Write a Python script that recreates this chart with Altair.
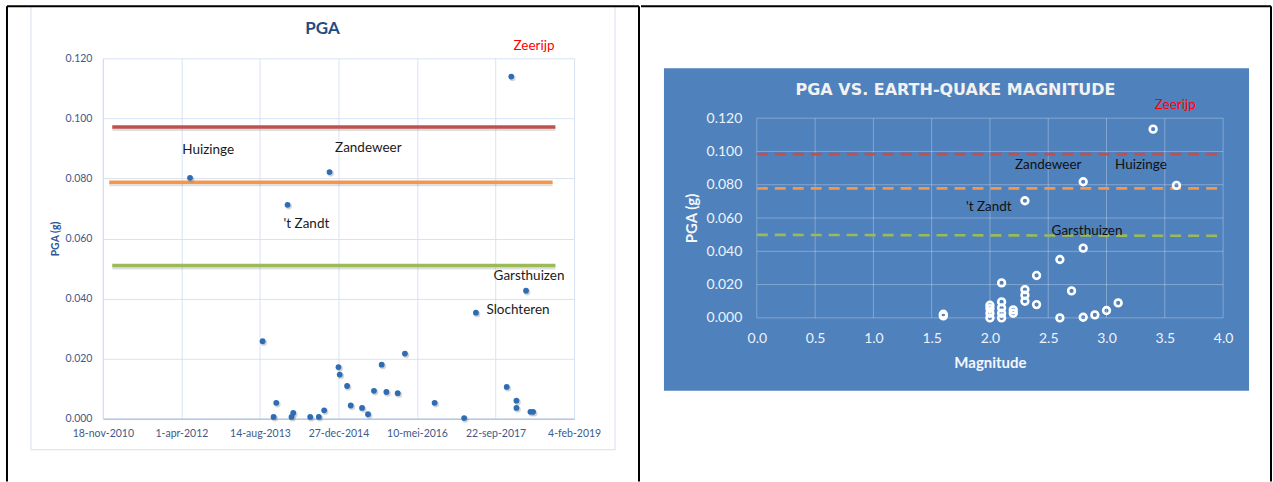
import altair as alt
import pandas as pd

# ---------------- data ----------------
# Left panel: peak ground acceleration per event date
event_dates = [
    "2012-05-26", "2013-08-31", "2013-11-09", "2013-11-26", "2014-02-06", "2014-03-03",
    "2014-03-14", "2014-06-30", "2014-08-24", "2014-09-27", "2014-10-31", "2014-12-27",
    "2015-01-04", "2015-02-20", "2015-03-15", "2015-05-26", "2015-07-03", "2015-08-10",
    "2015-09-28", "2015-10-28", "2016-01-08", "2016-02-23", "2016-08-30", "2017-03-06",
    "2017-05-20", "2017-12-02", "2017-12-31", "2018-02-02", "2018-02-02", "2018-04-04",
    "2018-05-02", "2018-05-19",
]
event_pga = [
    0.0802, 0.0258, 0.0006, 0.0053, 0.0712, 0.0006,
    0.0019, 0.0006, 0.0006, 0.0028, 0.0821, 0.0172,
    0.0147, 0.0109, 0.0044, 0.0036, 0.0015, 0.0093,
    0.0180, 0.0089, 0.0085, 0.0217, 0.0053, 0.0002,
    0.0353, 0.0106, 0.1139, 0.0060, 0.0036, 0.0426,
    0.0023, 0.0023,
]

# Right panel: PGA against earthquake magnitude
magnitudes = [1.6, 1.6, 2.0, 2.0, 2.0, 2.0, 2.1, 2.1, 2.1, 2.1, 2.1, 2.2, 2.2, 2.3, 2.3,
              2.3, 2.3, 2.4, 2.4, 2.6, 2.6, 2.7, 2.8, 2.8, 2.8, 2.9, 3.0, 3.1, 3.4, 3.6]
magnitude_pga = [0.0012, 0.0022, 0.0000, 0.0028, 0.0056, 0.0076, 0.0000, 0.0028, 0.0060,
                 0.0096, 0.0210, 0.0028, 0.0048, 0.0704, 0.0100, 0.0136, 0.0170, 0.0080,
                 0.0255, 0.0000, 0.0351, 0.0162, 0.0004, 0.0419, 0.0818, 0.0018, 0.0044,
                 0.0090, 0.1134, 0.0796]

# Horizontal threshold levels
levels = ["hoog", "midden", "laag"]
level_colors = ["#c0504d", "#f79646", "#9bbb59"]
left_level_pga = [0.0971, 0.0787, 0.0510]
left_level_start = ["2011-01-17", "2010-12-29", "2011-01-17"]
left_level_end = ["2018-10-08", "2018-09-20", "2018-10-08"]
right_level_pga_start = [0.0984, 0.0778, 0.0499]
right_level_pga_end = [0.0984, 0.0778, 0.0493]
right_level_mag = [0.0, 4.0]

# Event names and where their labels sit (data coordinates)
left_names = ["Huizinge", "Zandeweer", "'t Zandt", "Garsthuizen", "Slochteren", "Zeerijp"]
left_name_dates = ["2012-09-19", "2015-07-05", "2014-06-06", "2018-04-23", "2018-02-12", "2018-05-25"]
left_name_pga = [0.0894, 0.0902, 0.0649, 0.0475, 0.0363, 0.1241]
right_names = ["Zandeweer", "Huizinge", "'t Zandt", "Garsthuizen", "Zeerijp"]
right_name_mag = [2.50, 3.295, 1.99, 2.833, 3.59]
right_name_pga = [0.0916, 0.0920, 0.0666, 0.0524, 0.1280]

# Axis ticks
date_ticks = ["2010-11-18", "2012-04-01", "2013-08-14", "2014-12-27",
              "2016-05-10", "2017-09-22", "2019-02-04"]
dutch_months = ["jan", "feb", "mrt", "apr", "mei", "jun", "jul", "aug", "sep", "okt", "nov", "dec"]
pga_ticks = [0.0, 0.02, 0.04, 0.06, 0.08, 0.10, 0.12]
mag_ticks = [0.0, 0.5, 1.0, 1.5, 2.0, 2.5, 3.0, 3.5, 4.0]

# ---------------- tables ----------------
events = pd.DataFrame({"date": event_dates, "pga": event_pga})
mags = pd.DataFrame({"mag": magnitudes, "pga": magnitude_pga})
left_levels = pd.DataFrame({"level": levels, "pga": left_level_pga,
                            "start": left_level_start, "end": left_level_end})
right_levels = pd.DataFrame({"level": levels, "y0": right_level_pga_start,
                             "y1": right_level_pga_end,
                             "x0": right_level_mag[0], "x1": right_level_mag[1]})
left_notes = pd.DataFrame({"name": left_names, "date": left_name_dates, "pga": left_name_pga})
right_notes = pd.DataFrame({"name": right_names, "mag": right_name_mag, "pga": right_name_pga})
mag_grid = pd.DataFrame({"mag": mag_ticks, "lo": pga_ticks[0], "hi": pga_ticks[-1]})
pga_grid = pd.DataFrame({"pga": pga_ticks, "lo": mag_ticks[0], "hi": mag_ticks[-1]})
one = pd.DataFrame({"k": [0]})

FONT = "Lato"
LW, LH = 472, 361          # left plot area
RW, RH = 467, 260          # right plot area (upper 60 px sit above the 0.120 line)
LOX, LOY = 103, 58         # left plot origin on the page
ROX, ROY = 756, 58         # right plot origin on the page
R_TOP_GAP = 60             # pixels between right view top and its 0.120 gridline
R_YMAX = pga_ticks[-1] * RH / (RH - R_TOP_GAP)


def dt(s):
    d = pd.Timestamp(s)
    return alt.DateTime(year=d.year, month=d.month, date=d.day, utc=True)


def rect(x0, y0, x1, y1, ox, oy, **kw):
    return alt.Chart(one).mark_rect(**kw).encode(
        x=alt.value(x0 - ox), x2=alt.value(x1 - ox),
        y=alt.value(y0 - oy), y2=alt.value(y1 - oy))


def line(x0, y0, x1, y1, ox, oy, **kw):
    return alt.Chart(one).mark_rule(**kw).encode(
        x=alt.value(x0 - ox), x2=alt.value(x1 - ox),
        y=alt.value(y0 - oy), y2=alt.value(y1 - oy))


def label(text, x, y, ox, oy, **kw):
    return alt.Chart(one).mark_text(text=text, align="center", baseline="middle", **kw).encode(
        x=alt.value(x - ox), y=alt.value(y - oy))


level_color = alt.Color("level:N", scale=alt.Scale(domain=levels, range=level_colors), legend=None)

# ---------------- left panel ----------------
month_expr = "[" + ",".join(f"'{m}'" for m in dutch_months) + "]"
date_label_expr = ("utcdate(datum.value) + '-' + " + month_expr +
                   "[utcmonth(datum.value)] + '-' + utcyear(datum.value)")

x_date = alt.X("date:T",
               scale=alt.Scale(type="utc", domain=[dt(date_ticks[0]), dt(date_ticks[-1])], nice=False),
               axis=alt.Axis(values=[dt(d) for d in date_ticks], labelExpr=date_label_expr,
                             title=None, grid=True, gridColor="#d9e2f3", domainColor="#b4c7e7",
                             domainWidth=1.5, ticks=False, labelPadding=10, labelFont=FONT,
                             labelFontSize=10.5, labelColor="#3d5a8a", labelFlush=False,
                             labelOverlap=False))
y_left = alt.Y("pga:Q", scale=alt.Scale(domain=[0, 0.12], nice=False),
               axis=alt.Axis(values=pga_ticks, format=".3f", title="PGA (g)", grid=True,
                             gridColor="#d9e2f3", domainColor="#d0dcf0", ticks=False,
                             labelPadding=11, labelFont=FONT, labelFontSize=10.5,
                             labelColor="#3d5a8a", titleFont=FONT, titleFontSize=10.5,
                             titleFontWeight="bold", titleColor="#2f5597", titleX=-47.5,
                             titleY=180.5, titleAngle=270, titleBaseline="middle"))

# transparent sheet spanning the left half of the page (fixes the layout bounds)
left_bg = rect(0, 0, 640, 482, LOX, LOY, fill="white", opacity=0)
left_box = rect(31, 6, 616, 450, LOX, LOY, fill=None, stroke="#dde5f2", strokeWidth=1.2)
left_frame = alt.layer(
    line(7, 6, 640, 6, LOX, LOY, color="black", strokeWidth=2),
    line(7, 6, 7, 482, LOX, LOY, color="black", strokeWidth=2),
    line(640, 6, 640, 482, LOX, LOY, color="black", strokeWidth=2),
)

left_points = alt.Chart(events).mark_circle(size=34, color="#2e6db4", opacity=1).encode(
    x=x_date, y=y_left)
left_point_shadow = alt.Chart(events).mark_circle(size=40, color="#6f6f6f", opacity=0.3,
                                                  xOffset=1.2, yOffset=1.5).encode(
    x=alt.X("date:T"), y=alt.Y("pga:Q"))

left_level_shadow = alt.Chart(left_levels).mark_rule(strokeWidth=4, color="#555555",
                                                     opacity=0.18, yOffset=2).encode(
    x=alt.X("start:T"), x2="end:T", y=alt.Y("pga:Q"))
left_level_rules = alt.Chart(left_levels).mark_rule(strokeWidth=3.5).encode(
    x=alt.X("start:T"), x2="end:T", y=alt.Y("pga:Q"), color=level_color)

left_text = alt.Chart(left_notes).mark_text(font=FONT, fontSize=13.5, align="center",
                                            baseline="middle").encode(
    x=alt.X("date:T"), y=alt.Y("pga:Q"),
    text="name:N",
    color=alt.condition(alt.datum.name == "Zeerijp", alt.value("#ff0000"), alt.value("#1a1a1a")))

left_title = label("PGA", 323, 29, LOX, LOY, font=FONT, fontSize=17, fontWeight="bold",
                   color="#264a7e")

left = alt.layer(
    left_bg, left_box, left_frame, left_level_shadow, left_level_rules,
    left_point_shadow, left_points, left_text, left_title,
).properties(width=LW, height=LH)

# ---------------- right panel ----------------
x_mag = alt.X("mag:Q", scale=alt.Scale(domain=[0, 4], nice=False),
              axis=alt.Axis(values=mag_ticks, format=".1f", title="Magnitude", grid=False,
                            domain=False, ticks=False, zindex=1,
                            labelPadding=14, labelFont=FONT, labelFontSize=14,
                            labelColor="#eef3fa", labelFlush=False, titleFont=FONT,
                            titleFontSize=15, titleFontWeight="bold", titleColor="#f4f7fb",
                            titleY=44.7, titleBaseline="middle"))
y_right = alt.Y("pga:Q", scale=alt.Scale(domain=[0, R_YMAX], nice=False),
                axis=alt.Axis(values=pga_ticks, format=".3f", title="PGA (g)", grid=False,
                              domain=False, ticks=False, zindex=1,
                              labelPadding=15, labelFont=FONT, labelFontSize=14,
                              labelColor="#eef3fa", titleFont=FONT, titleFontSize=15,
                              titleFontWeight="bold", titleColor="#f4f7fb", titleX=-65.5,
                              titleY=160, titleAngle=270, titleBaseline="middle"))

right_bg = rect(641, 0, 1273, 482, ROX, ROY, fill="white", opacity=0)
right_frame = alt.layer(
    line(640, 6, 1271, 6, ROX, ROY, color="black", strokeWidth=2),
    line(1271, 6, 1271, 482, ROX, ROY, color="black", strokeWidth=2),
)
right_panel = rect(663, 68, 1249, 391, ROX, ROY, fill="#4f81bd")

grid_style = dict(color="white", opacity=0.3, strokeWidth=1)
right_vgrid = alt.Chart(mag_grid).mark_rule(**grid_style).encode(
    x=alt.X("mag:Q"), y=alt.Y("lo:Q"), y2="hi:Q")
right_hgrid = alt.Chart(pga_grid).mark_rule(**grid_style).encode(
    y=alt.Y("pga:Q"), x=alt.X("lo:Q"), x2="hi:Q")

right_level_rules = alt.Chart(right_levels).mark_rule(strokeWidth=2.6, strokeDash=[11, 7]).encode(
    x=alt.X("x0:Q"), x2="x1:Q", y=alt.Y("y0:Q"), y2="y1:Q", color=level_color)

right_points = alt.Chart(mags).mark_point(shape="circle", size=46, filled=False,
                                          color="white", strokeWidth=2.6, opacity=1).encode(
    x=x_mag, y=y_right)

right_text = alt.Chart(right_notes).mark_text(font=FONT, fontSize=13.5, align="center",
                                              baseline="middle").encode(
    x=alt.X("mag:Q"), y=alt.Y("pga:Q"),
    text="name:N",
    color=alt.condition(alt.datum.name == "Zeerijp", alt.value("#ff0000"), alt.value("#111111")))

right_title = label("PGA VS. EARTH-QUAKE MAGNITUDE", 955, 90, ROX, ROY, font="DejaVu Sans",
                    fontSize=16, fontWeight="bold", color="#f2f2f2")

right = alt.layer(
    right_bg, right_frame, right_panel, right_vgrid, right_hgrid, right_level_rules,
    right_points, right_text, right_title,
).properties(width=RW, height=RH)

chart = alt.hconcat(left, right, spacing=0).properties(
    padding=0, background="white"
).configure_view(stroke=None)

chart.save("out.html", embed_options={"renderer": "svg", "actions": False})
